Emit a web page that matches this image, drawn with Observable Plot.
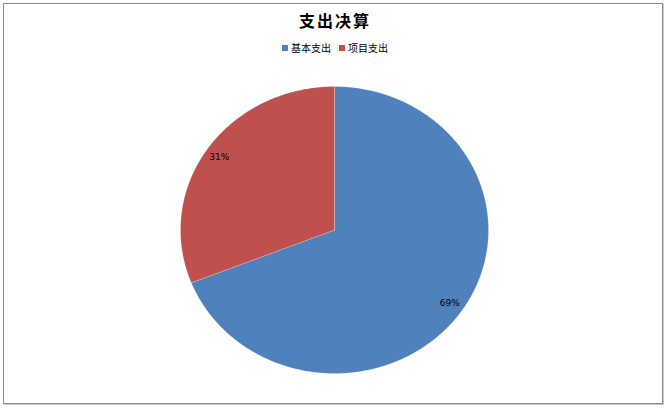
<!DOCTYPE html>
<html>
<head>
<meta charset="utf-8">
<script src="https://cdn.jsdelivr.net/npm/d3@7"></script>
<script src="https://cdn.jsdelivr.net/npm/@observablehq/plot@0.6"></script>
<style>
  html, body { margin: 0; padding: 0; background: #fff; }
  #wrap { position: relative; width: 670px; height: 410px; overflow: hidden; font-family: "Noto Sans CJK SC", sans-serif; }
  #frame { position: absolute; left: 3px; top: 3px; width: 660px; height: 401px; border: 1px solid #8a8a8a; box-sizing: border-box; box-shadow: 1px 1px 0 #c8c8c8; }
  #title { position: absolute; left: 0; width: 670px; top: 9px; text-align: center; font-size: 16px; font-weight: bold; letter-spacing: 2px; color: #000; line-height: 22px; }
  #legend { position: absolute; left: 0; width: 670px; top: 40px; text-align: center; font-size: 10px; color: #000; line-height: 14px; }
  .item { display: inline-flex; align-items: center; margin: 0 4px; }
  .sw { width: 6px; height: 6px; display: inline-block; margin-right: 3px; }
  #chart { position: absolute; left: 0; top: 60px; }
</style>
</head>
<body>
<div id="wrap">
  <div id="frame"></div>
  <div id="title"></div>
  <div id="legend"></div>
  <div id="chart"></div>
</div>
<script>
const title = "支出决算";
const names = ["基本支出", "项目支出"];
const values = [69, 31];
const labels = ["69%", "31%"];
const colors = ["#4F81BD", "#C0504D"];

document.getElementById("title").textContent = title;
const legend = document.getElementById("legend");
names.forEach((n, i) => {
  const s = document.createElement("span");
  s.className = "item";
  s.innerHTML = `<span class="sw" style="background:${colors[i]}"></span>${n}`;
  legend.appendChild(s);
});

// Build slice polygons in unit-circle data space (angle 0 = top, clockwise)
const total = d3.sum(values);
const polys = [];
const labelPts = [];
let acc = 0;
names.forEach((n, i) => {
  const a0 = acc / total * 2 * Math.PI;
  acc += values[i];
  const a1 = acc / total * 2 * Math.PI;
  polys.push({name: n, x: 0, y: 0});
  const steps = Math.max(2, Math.ceil((a1 - a0) / (Math.PI / 360)));
  for (let k = 0; k <= steps; k++) {
    const a = a0 + (a1 - a0) * k / steps;
    polys.push({name: n, x: Math.sin(a), y: Math.cos(a)});
  }
  polys.push({name: n, x: 0, y: 0});
  const am = (a0 + a1) / 2;
  labelPts.push({name: n, label: labels[i], x: 0.905 * Math.sin(am), y: 0.905 * Math.cos(am)});
});

const plot = Plot.plot({
  width: 670,
  height: 340,
  margin: 0,
  x: {domain: [-1, 1], range: [180, 488], axis: null},
  y: {domain: [-1, 1], range: [313, 26], axis: null},
  color: {domain: names, range: colors},
  marks: [
    Plot.line(polys, {x: "x", y: "y", z: "name", fill: "name", stroke: "#ffffff", strokeWidth: 0.4, strokeOpacity: 0.5, curve: "linear"}),
    Plot.text(labelPts, {x: "x", y: "y", text: "label", fontSize: 9, fill: "#000", fontFamily: "DejaVu Sans"})
  ]
});
document.getElementById("chart").appendChild(plot);
</script>
</body>
</html>
